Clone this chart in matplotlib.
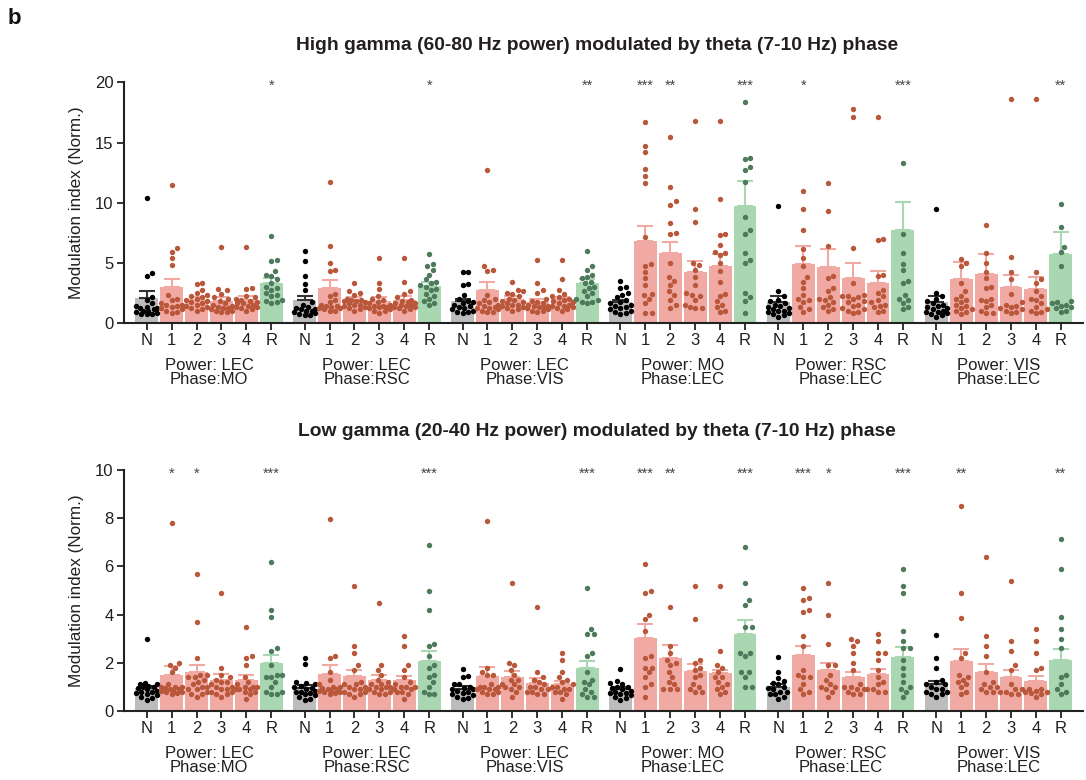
import numpy as np
import matplotlib
matplotlib.use("Agg")
import matplotlib.pyplot as plt
from matplotlib.transforms import blended_transform_factory

plt.rcParams['font.family'] = ['Liberation Sans', 'DejaVu Sans']

# ---------------- data ----------------
bar_labels = ["N", "1", "2", "3", "4", "R"]
group_labels = ["Power: LEC\nPhase:MO", "Power: LEC\nPhase:RSC", "Power: LEC\nPhase:VIS",
                "Power: MO\nPhase:LEC", "Power: RSC\nPhase:LEC", "Power: VIS\nPhase:LEC"]

hg_title = "High gamma (60-80 Hz power) modulated by theta (7-10 Hz) phase"
lg_title = "Low gamma (20-40 Hz power) modulated by theta (7-10 Hz) phase"

# High gamma: bar means and SEM (rows = groups, cols = N,1,2,3,4,R)
hg_means = [[2.05, 2.97, 1.91, 1.83, 1.89, 3.30],
            [1.89, 2.88, 1.89, 1.83, 1.89, 3.05],
            [1.83, 2.72, 1.97, 1.72, 1.94, 3.27],
            [1.72, 6.80, 5.80, 4.22, 4.72, 9.71],
            [1.72, 4.88, 4.63, 3.72, 3.33, 7.71],
            [1.72, 3.63, 4.05, 2.97, 2.80, 5.71]]
hg_sem = [[0.55, 0.66, 0.25, 0.27, 0.31, 0.40],
          [0.36, 0.67, 0.21, 0.27, 0.30, 0.35],
          [0.17, 0.69, 0.28, 0.28, 0.22, 0.35],
          [0.17, 1.27, 0.94, 0.94, 0.98, 2.11],
          [0.48, 1.52, 1.47, 1.25, 0.97, 2.36],
          [0.53, 1.42, 1.69, 0.97, 0.97, 1.83]]

# Low gamma
lg_means = [[0.97, 1.49, 1.62, 1.27, 1.27, 1.99],
            [0.97, 1.54, 1.45, 1.29, 1.29, 2.07],
            [0.93, 1.45, 1.41, 1.16, 1.12, 1.77],
            [0.90, 3.03, 2.20, 1.66, 1.58, 3.20],
            [1.00, 2.32, 1.70, 1.42, 1.54, 2.24],
            [1.12, 2.07, 1.62, 1.42, 1.24, 2.12]]
lg_sem = [[0.08, 0.39, 0.28, 0.25, 0.22, 0.33],
          [0.10, 0.37, 0.25, 0.20, 0.16, 0.43],
          [0.09, 0.39, 0.25, 0.22, 0.12, 0.32],
          [0.08, 0.59, 0.52, 0.28, 0.12, 0.56],
          [0.11, 0.36, 0.29, 0.21, 0.19, 0.40],
          [0.14, 0.49, 0.32, 0.28, 0.23, 0.44]]

# Individual points, High gamma
hg_LEC_MO = [
    [10.4, 4.1, 3.9, 2.1, 1.9, 1.6, 1.4, 1.3, 1.2, 1.2, 1.1, 1.0, 1.0, 0.9, 0.8, 0.7, 0.7, 0.7],
    [11.5, 6.2, 5.9, 5.4, 4.8, 2.3, 2.0, 1.9, 1.6, 1.5, 1.5, 1.4, 1.3, 1.2, 1.1, 1.0, 0.9, 0.8],
    [3.3, 3.2, 2.7, 2.5, 2.3, 2.2, 2.1, 2.0, 1.9, 1.8, 1.7, 1.6, 1.5, 1.4, 1.3, 1.2, 1.1, 1.0],
    [6.3, 2.8, 2.7, 2.4, 2.1, 2.0, 1.8, 1.6, 1.5, 1.4, 1.3, 1.2, 1.2, 1.1, 1.0, 1.0, 0.9, 0.9],
    [6.3, 2.9, 2.8, 2.2, 2.1, 2.0, 1.9, 1.8, 1.7, 1.6, 1.6, 1.5, 1.4, 1.3, 1.3, 1.2, 1.1, 1.0],
    [7.2, 5.2, 5.1, 4.3, 4.0, 3.9, 3.6, 3.3, 3.0, 2.9, 2.7, 2.5, 2.3, 2.2, 1.9, 1.8, 1.7, 1.6]]
hg_LEC_RSC = [
    [6.0, 5.1, 3.9, 3.2, 2.7, 1.7, 1.5, 1.3, 1.2, 1.1, 1.1, 1.0, 1.0, 0.9, 0.8, 0.7, 0.6, 0.6],
    [11.7, 6.4, 5.0, 4.4, 4.3, 2.4, 2.2, 1.9, 1.7, 1.5, 1.4, 1.4, 1.3, 1.2, 1.2, 1.1, 1.0, 1.0],
    [3.3, 2.6, 2.5, 2.3, 2.0, 1.9, 1.9, 1.8, 1.8, 1.7, 1.6, 1.5, 1.5, 1.4, 1.3, 1.2, 1.1, 1.0],
    [5.4, 3.3, 2.8, 2.2, 2.0, 1.9, 1.7, 1.6, 1.5, 1.4, 1.4, 1.3, 1.3, 1.2, 1.1, 1.0, 1.0, 0.8],
    [5.4, 3.4, 2.6, 2.4, 2.1, 1.9, 1.8, 1.7, 1.6, 1.6, 1.5, 1.5, 1.4, 1.3, 1.3, 1.2, 1.1, 1.0],
    [5.7, 4.9, 4.7, 4.4, 4.0, 3.6, 3.4, 3.3, 3.1, 3.0, 2.8, 2.7, 2.4, 2.2, 2.0, 1.8, 1.6, 1.5]]
hg_LEC_VIS = [
    [4.2, 4.2, 3.2, 3.1, 2.3, 2.0, 1.8, 1.7, 1.6, 1.5, 1.4, 1.3, 1.2, 1.1, 1.0, 0.9, 0.9, 0.8],
    [12.7, 4.7, 4.4, 4.3, 2.3, 2.0, 1.9, 1.7, 1.6, 1.5, 1.4, 1.3, 1.2, 1.2, 1.1, 1.0, 0.9, 0.9],
    [3.4, 2.7, 2.6, 2.5, 2.4, 2.2, 2.0, 1.9, 1.8, 1.7, 1.6, 1.5, 1.5, 1.4, 1.3, 1.2, 1.1, 1.0],
    [5.2, 3.3, 2.7, 2.5, 2.0, 1.8, 1.7, 1.6, 1.5, 1.4, 1.4, 1.3, 1.3, 1.2, 1.1, 1.0, 1.0, 0.9],
    [5.2, 3.6, 2.7, 2.4, 2.2, 2.1, 2.0, 1.9, 1.8, 1.7, 1.6, 1.5, 1.4, 1.4, 1.3, 1.2, 1.1, 1.0],
    [6.0, 4.7, 4.4, 4.0, 3.8, 3.7, 3.4, 3.3, 3.0, 2.9, 2.6, 2.5, 2.2, 2.0, 1.9, 1.7, 1.7, 1.6]]
hg_MO_LEC = [
    [3.5, 3.0, 2.9, 2.5, 2.3, 2.1, 1.9, 1.7, 1.6, 1.5, 1.4, 1.3, 1.2, 1.1, 1.0, 0.9, 0.8, 0.7],
    [16.7, 14.7, 14.2, 12.8, 12.2, 11.6, 7.1, 4.9, 4.7, 4.2, 3.7, 3.1, 2.4, 2.3, 2.0, 1.6, 0.8, 0.8],
    [15.5, 11.3, 10.1, 9.8, 8.3, 7.5, 7.4, 5.0, 3.8, 3.5, 3.1, 2.6, 2.3, 1.9, 1.5, 1.2],
    [16.8, 9.5, 8.4, 5.0, 4.8, 4.4, 3.8, 3.1, 2.5, 2.3, 2.2, 1.9, 1.5, 1.3, 1.2, 1.2],
    [16.8, 10.3, 7.4, 7.3, 6.5, 5.9, 5.8, 5.6, 5.0, 4.3, 3.4, 2.4, 2.2, 1.8, 1.5, 1.3, 1.0, 0.9],
    [18.4, 13.7, 13.6, 13.0, 12.7, 11.7, 8.8, 7.7, 7.4, 5.8, 5.2, 5.0, 2.5, 2.1, 1.8, 0.8]]
hg_RSC_LEC = [
    [9.7, 2.6, 2.2, 1.9, 1.8, 1.6, 1.5, 1.4, 1.3, 1.2, 1.1, 1.0, 1.0, 0.9, 0.8, 0.7, 0.6, 0.5],
    [11.0, 9.5, 7.7, 6.1, 5.4, 4.7, 3.8, 3.4, 2.9, 2.3, 2.0, 1.9, 1.7, 1.3, 1.1, 0.9],
    [11.6, 9.3, 6.4, 3.9, 3.7, 2.9, 2.6, 2.1, 2.0, 1.9, 1.7, 1.5, 1.3, 1.1, 1.0],
    [17.8, 17.1, 6.2, 3.3, 2.3, 2.2, 2.2, 2.1, 2.0, 1.8, 1.7, 1.5, 1.4, 1.2, 1.1, 1.0, 0.9, 0.8],
    [17.1, 7.0, 6.9, 4.0, 3.9, 2.7, 2.5, 2.2, 1.9, 1.7, 1.5, 1.4, 1.3, 1.0, 0.9],
    [13.3, 7.4, 5.8, 4.9, 4.4, 3.5, 3.3, 2.3, 2.0, 1.9, 1.6, 1.3, 1.1]]
hg_VIS_LEC = [
    [9.5, 2.5, 2.2, 2.0, 1.8, 1.6, 1.5, 1.4, 1.3, 1.2, 1.1, 1.0, 0.9, 0.9, 0.8, 0.7, 0.6, 0.5],
    [5.3, 5.0, 4.7, 3.3, 2.6, 2.2, 2.0, 1.9, 1.7, 1.5, 1.4, 1.2, 1.1, 1.0, 0.9, 0.7],
    [8.1, 5.8, 5.0, 4.2, 3.7, 3.0, 2.9, 2.0, 1.9, 1.8, 1.5, 1.3, 1.0, 0.8, 0.8],
    [18.6, 5.5, 4.2, 3.6, 2.4, 1.7, 1.5, 1.4, 1.3, 1.2, 1.1, 1.0, 0.9, 0.8],
    [18.6, 4.2, 3.6, 3.3, 2.6, 2.2, 2.0, 1.9, 1.6, 1.3, 1.1, 1.0, 0.9, 0.8],
    [9.9, 8.0, 6.3, 5.9, 4.7, 1.8, 1.7, 1.6, 1.5, 1.4, 1.3, 1.2, 1.0, 0.9]]

# Individual points, Low gamma
lg_LEC_MO = [
    [2.97, 1.15, 1.1, 1.1, 1.05, 1.0, 1.0, 0.95, 0.9, 0.85, 0.8, 0.8, 0.75, 0.7, 0.65, 0.6, 0.55, 0.45],
    [7.8, 2.0, 1.9, 1.8, 1.6, 1.1, 1.0, 1.0, 1.0, 0.95, 0.9, 0.9, 0.85, 0.85, 0.8, 0.8, 0.75, 0.7],
    [5.7, 3.7, 2.2, 1.5, 1.5, 1.4, 1.4, 1.3, 1.2, 1.1, 1.0, 1.0, 0.9, 0.9, 0.8, 0.7, 0.7, 0.6],
    [4.9, 1.8, 1.5, 1.4, 1.3, 1.2, 1.2, 1.1, 1.0, 1.0, 0.9, 0.9, 0.8, 0.8, 0.7, 0.7, 0.6],
    [3.5, 2.3, 2.2, 1.9, 1.4, 1.2, 1.1, 1.0, 1.0, 1.0, 0.9, 0.9, 0.9, 0.8, 0.8, 0.7, 0.5],
    [6.2, 4.2, 3.9, 2.6, 2.5, 1.9, 1.5, 1.5, 1.4, 1.4, 1.2, 1.0, 0.8, 0.8, 0.7, 0.7]]
lg_LEC_RSC = [
    [2.2, 1.95, 1.2, 1.15, 1.1, 1.05, 1.0, 0.95, 0.9, 0.85, 0.8, 0.8, 0.75, 0.7, 0.65, 0.6, 0.5, 0.45],
    [7.95, 2.3, 2.2, 1.6, 1.3, 1.1, 1.0, 1.0, 0.95, 0.9, 0.9, 0.85, 0.85, 0.8, 0.8, 0.75, 0.7],
    [5.2, 2.7, 2.4, 1.9, 1.7, 1.2, 1.1, 1.1, 1.0, 1.0, 0.9, 0.9, 0.8, 0.8, 0.7, 0.7, 0.6],
    [4.5, 1.9, 1.7, 1.5, 1.3, 1.2, 1.1, 1.1, 1.0, 1.0, 1.0, 0.9, 0.9, 0.8, 0.8, 0.7, 0.7],
    [3.1, 2.7, 1.9, 1.7, 1.4, 1.2, 1.1, 1.0, 1.0, 1.0, 0.9, 0.9, 0.8, 0.8, 0.7, 0.5],
    [6.9, 5.0, 4.2, 2.8, 2.7, 2.3, 1.9, 1.8, 1.5, 1.4, 1.2, 1.0, 0.8, 0.7, 0.7]]
lg_LEC_VIS = [
    [1.75, 1.45, 1.4, 1.1, 1.1, 1.0, 0.95, 0.9, 0.9, 0.85, 0.8, 0.75, 0.7, 0.65, 0.6, 0.55, 0.5],
    [7.9, 1.8, 1.6, 1.5, 1.5, 1.1, 1.0, 1.0, 1.0, 0.9, 0.9, 0.9, 0.8, 0.8, 0.7, 0.7],
    [5.3, 2.0, 1.9, 1.7, 1.5, 1.3, 1.3, 1.1, 1.1, 1.0, 1.0, 0.9, 0.8, 0.6],
    [4.3, 1.6, 1.4, 1.3, 1.2, 1.1, 1.0, 1.0, 0.9, 0.9, 0.8, 0.8, 0.7, 0.7],
    [2.4, 2.1, 1.6, 1.4, 1.3, 1.2, 1.1, 1.0, 1.0, 0.9, 0.9, 0.8, 0.8, 0.7, 0.5],
    [5.1, 3.4, 3.2, 3.2, 2.4, 2.3, 1.6, 1.3, 1.2, 1.1, 0.9, 0.8, 0.7, 0.6, 0.6]]
lg_MO_LEC = [
    [1.75, 1.25, 1.15, 1.1, 1.0, 1.0, 0.95, 0.9, 0.85, 0.8, 0.75, 0.75, 0.7, 0.65, 0.6, 0.55, 0.45],
    [6.1, 5.0, 4.9, 4.0, 3.8, 3.3, 2.3, 2.2, 1.8, 1.8, 1.6, 1.4, 1.1, 1.0, 0.6],
    [4.3, 2.7, 2.4, 2.1, 2.0, 1.9, 1.6, 1.4, 1.2, 1.1, 0.9, 0.9, 0.9],
    [5.2, 3.8, 2.1, 2.0, 1.8, 1.7, 1.5, 1.4, 1.1, 1.0, 0.9, 0.8, 0.8],
    [5.2, 2.5, 1.9, 1.8, 1.6, 1.4, 1.4, 1.2, 1.1, 1.0, 0.9, 0.8, 0.7],
    [6.8, 5.3, 4.6, 4.4, 3.5, 3.5, 2.4, 2.4, 2.3, 1.6, 1.6, 1.4, 1.0, 1.0]]
lg_RSC_LEC = [
    [2.25, 1.6, 1.35, 1.25, 1.15, 1.1, 1.0, 0.95, 0.9, 0.8, 0.8, 0.7, 0.7, 0.6, 0.5],
    [5.1, 4.7, 4.6, 4.2, 4.1, 3.1, 2.7, 1.7, 1.5, 1.4, 1.4, 1.1, 0.9, 0.8, 0.7],
    [5.3, 4.0, 2.8, 1.9, 1.9, 1.5, 1.3, 1.1, 1.0, 1.0, 0.9, 0.8, 0.6],
    [3.0, 2.9, 2.7, 2.4, 2.0, 1.7, 1.1, 1.0, 1.0, 0.9, 0.9, 0.8, 0.7, 0.7],
    [3.2, 2.9, 2.4, 2.4, 2.1, 1.7, 1.4, 1.2, 1.1, 0.9, 0.9, 0.8, 0.8],
    [5.9, 5.2, 4.9, 3.3, 2.9, 2.6, 2.6, 2.1, 1.8, 1.5, 1.2, 1.0, 0.9, 0.8, 0.6]]
lg_VIS_LEC = [
    [3.15, 2.2, 1.8, 1.3, 1.2, 1.1, 1.1, 1.0, 0.9, 0.9, 0.8, 0.8, 0.7, 0.7, 0.6],
    [8.5, 4.9, 3.85, 2.4, 2.2, 1.5, 1.4, 1.3, 1.2, 1.1, 1.0, 0.8, 0.7],
    [6.4, 3.1, 2.7, 2.3, 1.6, 1.2, 1.1, 1.0, 1.0, 0.9, 0.8, 0.8],
    [5.4, 2.9, 2.5, 1.9, 1.7, 1.1, 0.9, 0.9, 0.8, 0.8, 0.7, 0.7],
    [3.4, 2.9, 2.4, 1.8, 1.7, 0.9, 0.9, 0.85, 0.8, 0.8, 0.75, 0.7, 0.6],
    [7.15, 5.9, 3.9, 3.4, 3.0, 2.6, 1.5, 1.4, 1.1, 0.9, 0.8, 0.7]]

hg_points = [hg_LEC_MO, hg_LEC_RSC, hg_LEC_VIS, hg_MO_LEC, hg_RSC_LEC, hg_VIS_LEC]
lg_points = [lg_LEC_MO, lg_LEC_RSC, lg_LEC_VIS, lg_MO_LEC, lg_RSC_LEC, lg_VIS_LEC]

hg_stars = [["", "", "", "", "", "*"], ["", "", "", "", "", "*"], ["", "", "", "", "", "**"],
            ["", "***", "**", "", "", "***"], ["", "*", "", "", "", "***"], ["", "", "", "", "", "**"]]
lg_stars = [["", "*", "*", "", "", "***"], ["", "", "", "", "", "***"], ["", "", "", "", "", "***"],
            ["", "***", "**", "", "", "***"], ["", "***", "*", "", "", "***"], ["", "**", "", "", "", "**"]]

# ---------------- style ----------------
bar_colors = ["#bcbcbc", "#f1a9a4", "#f1a9a4", "#f1a9a4", "#f1a9a4", "#a9d7b1"]
dot_colors = ["#000000", "#b9573a", "#b9573a", "#b9573a", "#b9573a", "#4d7a5b"]
err_colors = ["#333333", "#f1a9a4", "#f1a9a4", "#f1a9a4", "#f1a9a4", "#a9d7b1"]
GROUP_STEP = 6.34
BAR_W = 0.92
TXT = '#231f20'

W, H = 1086, 780
fig = plt.figure(figsize=(W / 100, H / 100), dpi=100)


def ax_rect(x0, y0, x1, y1):
    return [x0 / W, 1 - y1 / H, (x1 - x0) / W, (y1 - y0) / H]


def swarm_x(ax, x0, ys, d_px, half_w_px):
    ys = np.asarray(ys, float)
    pts = ax.transData.transform(np.column_stack([np.full(len(ys), x0), ys]))
    order = np.argsort(ys)
    placed = []
    offs = np.zeros(len(ys))
    step = d_px / 3.0
    cands = [0.0]
    k = 1
    while k * step <= half_w_px:
        cands += [k * step, -k * step]
        k += 1
    for idx in order:
        px, py = pts[idx]
        best = None
        best_ov = None
        for c in cands:
            ov = 0.0
            for (qx, qy) in placed:
                dist = np.hypot(px + c - qx, py - qy)
                if dist < d_px:
                    ov = max(ov, d_px - dist)
            if ov == 0.0:
                best = c
                break
            if best_ov is None or ov < best_ov:
                best_ov, best = ov, c
        offs[idx] = best
        placed.append((px + best, py))
    xy = pts.copy()
    xy[:, 0] += offs
    return ax.transData.inverted().transform(xy)[:, 0]


def panel(rect, means, sems, points, stars, ymax, yticks, title, title_y):
    ax = fig.add_axes(ax_rect(*rect))
    n_groups = len(means)
    xs_all = []
    for g in range(n_groups):
        for i in range(6):
            xs_all.append(g * GROUP_STEP + i)
    ax.set_xlim(-0.911, (n_groups - 1) * GROUP_STEP + 5 + 0.89)
    ax.set_ylim(0, ymax)
    for g in range(n_groups):
        for i in range(6):
            x = g * GROUP_STEP + i
            ax.bar(x, means[g][i], width=BAR_W, color=bar_colors[i], edgecolor='none', zorder=1)
            ax.errorbar(x, means[g][i], yerr=[[0], [sems[g][i]]], fmt='none',
                        ecolor=err_colors[i], elinewidth=1.5, capsize=6, capthick=1.5, zorder=2)
            ys = points[g][i]
            xs = swarm_x(ax, x, ys, 5.3, 11.0)
            ax.scatter(xs, ys, s=15, color=dot_colors[i], linewidths=0, zorder=3)
            if stars[g][i]:
                ax.text(x, ymax * 0.985, stars[g][i], ha='center', va='center', fontsize=10.5,
                        color='#444444', zorder=4)
    ax.set_xticks(xs_all)
    ax.set_xticklabels(bar_labels * n_groups, fontsize=12)
    ax.set_yticks(yticks)
    ax.set_yticklabels([str(t) for t in yticks], fontsize=12)
    for s in ['top', 'right']:
        ax.spines[s].set_visible(False)
    for s in ['left', 'bottom']:
        ax.spines[s].set_linewidth(1.5)
        ax.spines[s].set_color('#222222')
    ax.tick_params(axis='both', length=5, width=1.3, color='#222222', labelcolor=TXT, pad=2.5)
    ax.set_ylabel("Modulation index (Norm.)", fontsize=12.3, color=TXT, labelpad=8)
    tr = blended_transform_factory(ax.transData, ax.transAxes)
    for g in range(n_groups):
        cx = g * GROUP_STEP + 2.5
        ax.text(cx, -0.145, group_labels[g], transform=tr, ha='center', va='top',
                fontsize=12, color=TXT, linespacing=0.93)
    fig.text(0.55, 1 - title_y / H, title, ha='center', va='center', fontsize=13.9,
             fontweight='bold', color=TXT)
    return ax


panel((124, 82.5, 1083, 322.7), hg_means, hg_sem, hg_points, hg_stars, 20, [0, 5, 10, 15, 20],
      hg_title, 46)
panel((124, 470, 1083, 711), lg_means, lg_sem, lg_points, lg_stars, 10, [0, 2, 4, 6, 8, 10],
      lg_title, 432)

fig.text(14 / W, 1 - 18 / H, "b", fontsize=16, fontweight='bold', ha='center', va='center', color='#111111')

fig.savefig("out.png", dpi=100)
